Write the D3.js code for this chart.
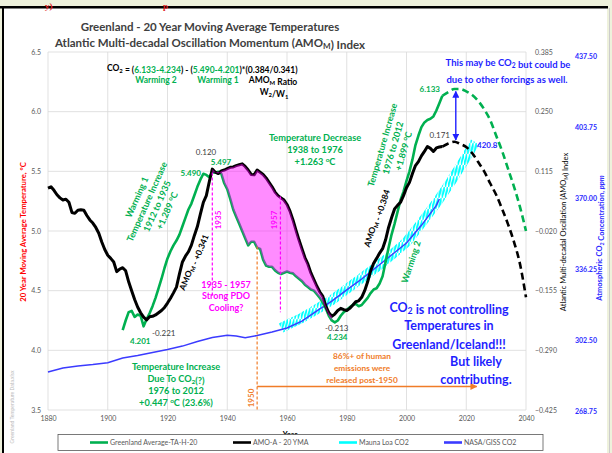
<!DOCTYPE html>
<html>
<head>
<meta charset="utf-8">
<script src="https://cdnjs.cloudflare.com/ajax/libs/d3/7.8.5/d3.min.js"></script>
<style>
  body { margin: 0; background: #eef1dc; }
  svg text { font-family: Lato, "Open Sans", sans-serif; }
</style>
</head>
<body>
<svg width="612" height="453"></svg>
<script>
// Greenland 20 yr moving average temperature, deg C
const greenland = [
  [1905, 4.17], [1906, 4.25], [1907, 4.32], [1908, 4.33], [1909, 4.28], [1910, 4.30], [1911, 4.29],
  [1912, 4.201], [1913, 4.26], [1914, 4.31], [1915, 4.37], [1916, 4.44], [1917, 4.52], [1918, 4.60],
  [1919, 4.69], [1920, 4.77], [1921, 4.83], [1922, 4.88], [1923, 4.92], [1924, 4.97], [1925, 5.04],
  [1926, 5.11], [1927, 5.18], [1928, 5.23], [1929, 5.30], [1930, 5.37], [1931, 5.43], [1932, 5.48],
  [1933, 5.47], [1934, 5.45], [1935, 5.490], [1936, 5.49], [1937, 5.497], [1938, 5.48], [1939, 5.40],
  [1940, 5.35], [1941, 5.27], [1942, 5.18], [1943, 5.12], [1944, 5.06], [1945, 5.00], [1946, 4.94],
  [1947, 4.88], [1948, 4.91], [1949, 4.91], [1950, 4.86], [1951, 4.85], [1952, 4.76], [1953, 4.71],
  [1954, 4.70], [1955, 4.70], [1956, 4.67], [1957, 4.65], [1958, 4.64], [1959, 4.65], [1960, 4.66],
  [1961, 4.65], [1962, 4.645], [1963, 4.62], [1964, 4.60], [1965, 4.58], [1966, 4.55], [1967, 4.53],
  [1968, 4.51], [1969, 4.50], [1970, 4.47], [1971, 4.44], [1972, 4.40], [1973, 4.35], [1974, 4.29],
  [1975, 4.25], [1976, 4.234], [1977, 4.25], [1978, 4.29], [1979, 4.32], [1980, 4.34], [1981, 4.36],
  [1982, 4.38], [1983, 4.39], [1984, 4.37], [1985, 4.38], [1986, 4.41], [1987, 4.44], [1988, 4.48],
  [1989, 4.51], [1990, 4.52], [1991, 4.56], [1992, 4.62], [1993, 4.74], [1994, 4.86], [1995, 4.97],
  [1996, 5.06], [1997, 5.16], [1998, 5.26], [1999, 5.33], [2000, 5.42], [2001, 5.50], [2002, 5.60],
  [2003, 5.72], [2004, 5.80], [2005, 5.87], [2006, 5.91], [2007, 5.93], [2008, 5.94], [2009, 5.96],
  [2010, 6.01], [2011, 6.07], [2012, 6.133]
];
const greenlandProj = [
  [2012, 6.133], [2014, 6.165], [2016, 6.19], [2018, 6.19], [2020, 6.17], [2022, 6.14], [2024, 6.09],
  [2026, 6.02], [2028, 5.93], [2030, 5.80], [2032, 5.67], [2034, 5.52], [2036, 5.37], [2038, 5.20], [2040, 5.00]
];

// AMO-A 20 yr moving average (index)
const amo = [
  [1880, 0.077], [1881, 0.080], [1882, 0.072], [1883, 0.062], [1884, 0.055], [1885, 0.050], [1886, 0.052],
  [1887, 0.045], [1888, 0.022], [1889, 0.020], [1890, 0.027], [1891, 0.028], [1892, 0.027], [1893, 0.015],
  [1894, 0.005], [1895, -0.002], [1896, -0.012], [1897, -0.025], [1898, -0.045], [1899, -0.062], [1900, -0.075],
  [1901, -0.082], [1902, -0.090], [1903, -0.112], [1904, -0.106], [1905, -0.103], [1906, -0.110], [1907, -0.135],
  [1908, -0.155], [1909, -0.175], [1910, -0.192], [1911, -0.205], [1912, -0.215], [1913, -0.221], [1914, -0.214],
  [1915, -0.213], [1916, -0.210], [1917, -0.205], [1918, -0.200], [1919, -0.193], [1920, -0.183], [1921, -0.172],
  [1922, -0.160], [1923, -0.147], [1924, -0.117], [1925, -0.090], [1926, -0.077], [1927, -0.067], [1928, -0.052],
  [1929, -0.030], [1930, -0.010], [1931, 0.018], [1932, 0.045], [1933, 0.060], [1934, 0.092], [1935, 0.120],
  [1936, 0.113], [1937, 0.110], [1938, 0.116], [1939, 0.118], [1940, 0.121], [1941, 0.124], [1942, 0.125],
  [1943, 0.128], [1944, 0.130], [1945, 0.132], [1946, 0.126], [1947, 0.118], [1948, 0.108], [1949, 0.107],
  [1950, 0.118], [1951, 0.113], [1952, 0.108], [1953, 0.100], [1954, 0.090], [1955, 0.080], [1956, 0.068],
  [1957, 0.060], [1958, 0.055], [1959, 0.050], [1960, 0.040], [1961, 0.025], [1962, 0.005], [1963, -0.018],
  [1964, -0.040], [1965, -0.060], [1966, -0.080], [1967, -0.095], [1968, -0.115], [1969, -0.130], [1970, -0.145],
  [1971, -0.158], [1972, -0.168], [1973, -0.190], [1974, -0.205], [1975, -0.213], [1976, -0.208], [1977, -0.200],
  [1978, -0.195], [1979, -0.198], [1980, -0.200], [1981, -0.195], [1982, -0.188], [1983, -0.180], [1984, -0.178],
  [1985, -0.170], [1986, -0.155], [1987, -0.135], [1988, -0.110], [1989, -0.093], [1990, -0.082], [1991, -0.070],
  [1992, -0.060], [1993, -0.040], [1994, -0.012], [1995, 0.010], [1996, 0.030], [1997, 0.038], [1998, 0.045],
  [1999, 0.060], [2000, 0.078], [2001, 0.090], [2002, 0.110], [2003, 0.128], [2004, 0.137], [2005, 0.150],
  [2006, 0.160], [2007, 0.171], [2008, 0.167], [2009, 0.160], [2010, 0.168], [2011, 0.170], [2012, 0.171]
];
const amoProj = [
  [2012, 0.171], [2014, 0.178], [2016, 0.182], [2018, 0.177], [2020, 0.170], [2022, 0.156], [2024, 0.136],
  [2026, 0.115], [2028, 0.088], [2030, 0.062], [2032, 0.030], [2034, -0.005], [2036, -0.045], [2038, -0.095], [2040, -0.170]
];

// CO2, ppm (as read on the right hand CO2 scale)
const maunaLoa = [
  [1958, 308.2], [1960, 309.6], [1965, 313.0], [1970, 317.2], [1975, 321.5], [1980, 326.7], [1985, 332.0],
  [1990, 337.2], [1995, 342.9], [2000, 349.1], [2005, 358.1], [2010, 367.6], [2015, 378.1], [2020, 389.5], [2023, 396.6]
];
const nasaGiss = [
  [1880, 287.3], [1885, 289.2], [1890, 290.1], [1895, 290.8], [1900, 291.7], [1905, 293.9], [1910, 295.1],
  [1915, 296.6], [1920, 298.0], [1925, 299.6], [1930, 301.8], [1935, 303.7], [1940, 304.8], [1943, 304.4],
  [1946, 303.6], [1950, 304.6], [1955, 306.3], [1960, 308.2], [1965, 311.5], [1970, 316.3], [1975, 321.0],
  [1980, 326.3], [1985, 331.5], [1990, 337.2], [1995, 342.9], [2000, 348.6], [2005, 357.0], [2010, 366.5], [2011, 369.5]
];

const yearTicks = [1880, 1900, 1920, 1940, 1960, 1980, 2000, 2020, 2040];
const tempTicks = [3.5, 4.0, 4.5, 5.0, 5.5, 6.0, 6.5];
const amoTicks = [-0.425, -0.290, -0.155, -0.020, 0.115, 0.250, 0.385];
const co2Ticks = [268.75, 302.50, 336.25, 370.00, 403.75, 437.50];

const GREEN = "#00b050", BLUE = "#2b2bff", ORANGE = "#f07c28", MAGENTA = "#ff00ff", GRAY = "#595959";

const svg = d3.select("svg");

// page frame
svg.append("rect").attr("x", 4).attr("y", 8).attr("width", 603).attr("height", 445).attr("fill", "#fff");
svg.append("rect").attr("x", 0).attr("y", 6).attr("width", 608).attr("height", 2.5).attr("fill", "#000");
svg.append("rect").attr("x", 2).attr("y", 6).attr("width", 2).attr("height", 447).attr("fill", "#000");
svg.append("line").attr("x1", 609.5).attr("x2", 609.5).attr("y1", 8).attr("y2", 453).attr("stroke", "#ccc");
svg.append("text").attr("x", 45).attr("y", 9).attr("fill", "#e02020").attr("font-size", 9)
  .attr("font-weight", "bold").style("font-family", "'Liberation Serif', serif").text("y)");
svg.append("text").attr("x", 163).attr("y", 9).attr("fill", "#e02020").attr("font-size", 9)
  .attr("font-weight", "bold").style("font-family", "'Liberation Serif', serif").text("p");

const x = d3.scaleLinear().domain([1880, 2040]).range([48, 526]);
const yT = d3.scaleLinear().domain([3.5, 6.5]).range([410, 52]);
const yA = d3.scaleLinear().domain([-0.425, 0.385]).range([410, 52]);
const yC = d3.scaleLinear().domain([268.75, 437.5]).range([411, 56]);

// grid
svg.append("g").selectAll("line").data(tempTicks).join("line")
  .attr("x1", x(1880)).attr("x2", x(2040)).attr("y1", d => yT(d)).attr("y2", d => yT(d))
  .attr("stroke", "#d9d9d9").attr("stroke-width", 0.8);
svg.append("g").selectAll("line").data(yearTicks).join("line")
  .attr("x1", d => x(d)).attr("x2", d => x(d)).attr("y1", yT(6.5)).attr("y2", yT(3.5))
  .attr("stroke", "#d9d9d9").attr("stroke-width", 0.8);

// axes
const leftAxis = svg.append("g").attr("transform", `translate(${x(1880)},0)`)
  .call(d3.axisLeft(yT).tickValues(tempTicks).tickFormat(d3.format(".1f")).tickSize(0).tickPadding(7));
const bottomAxis = svg.append("g").attr("transform", `translate(0,${yT(3.5)})`)
  .call(d3.axisBottom(x).tickValues(yearTicks).tickFormat(d3.format("d")).tickSize(0).tickPadding(6));
const amoAxis = svg.append("g").attr("transform", `translate(${x(2040)},0)`)
  .call(d3.axisRight(yA).tickValues(amoTicks).tickFormat(d3.format(".3f")).tickSize(0).tickPadding(9));
const co2Axis = svg.append("g").attr("transform", "translate(566,0)")
  .call(d3.axisRight(yC).tickValues(co2Ticks).tickFormat(d3.format(".2f")).tickSize(0).tickPadding(9));
[leftAxis, bottomAxis, amoAxis, co2Axis].forEach(a => {
  a.select(".domain").remove();
  a.selectAll("text").attr("font-size", 7).attr("fill", GRAY).style("font-family", "Lato, sans-serif");
});
co2Axis.selectAll("text").attr("fill", BLUE).attr("font-weight", "bold");

// hatch pattern for the monthly Mauna Loa record
const defs = svg.append("defs");
defs.append("pattern").attr("id", "hatch").attr("patternUnits", "userSpaceOnUse")
  .attr("width", 3.2).attr("height", 11)
  .append("path").attr("d", "M0,11 L3.2,0").attr("stroke", "#00ffff").attr("stroke-width", 2.1);
["arrowBlue", "arrowOrange"].forEach((id, i) => {
  defs.append("marker").attr("id", id).attr("viewBox", "0 0 10 10").attr("refX", 9).attr("refY", 5)
    .attr("markerWidth", 5).attr("markerHeight", 5).attr("orient", "auto-start-reverse")
    .append("path").attr("d", "M0,0 L10,5 L0,10 z").attr("fill", i ? ORANGE : "#1f1fff");
});

const line = (ys) => d3.line().x(d => x(d[0])).y(d => ys(d[1]));

svg.append("path").datum(maunaLoa).attr("d", line(yC)).attr("fill", "none")
  .attr("stroke", "url(#hatch)").attr("stroke-width", 10);
svg.append("path").datum(nasaGiss).attr("d", line(yC)).attr("fill", "none")
  .attr("stroke", "#3b3bff").attr("stroke-width", 1.5);
svg.append("path").datum(greenland).attr("d", line(yT)).attr("fill", "none")
  .attr("stroke", GREEN).attr("stroke-width", 2.6).attr("stroke-linejoin", "round");
svg.append("path").datum(amo).attr("d", line(yA)).attr("fill", "none")
  .attr("stroke", "#000").attr("stroke-width", 3).attr("stroke-linejoin", "round");
svg.append("path").datum(greenlandProj).attr("d", line(yT).curve(d3.curveMonotoneX)).attr("fill", "none")
  .attr("stroke", GREEN).attr("stroke-width", 2.6).attr("stroke-dasharray", "7,4");
svg.append("path").datum(amoProj).attr("d", line(yA).curve(d3.curveMonotoneX)).attr("fill", "none")
  .attr("stroke", "#000").attr("stroke-width", 2.6).attr("stroke-dasharray", "7,4");

// pink band between AMO and temperature, 1935-1975
const band = greenland.filter(d => d[0] >= 1935 && d[0] <= 1975)
  .map(d => ({ year: d[0], t: d[1], a: amo.find(e => e[0] === d[0])[1] }));
svg.append("path").datum(band)
  .attr("d", d3.area().x(d => x(d.year)).y0(d => yT(d.t)).y1(d => yA(d.a)))
  .attr("fill", MAGENTA).attr("fill-opacity", 0.45);

// helpers
function txt(px, py, str, color, size, weight, anchor) {
  return svg.append("text").attr("x", px).attr("y", py).attr("fill", color).attr("font-size", size)
    .attr("font-weight", weight || "bold").attr("text-anchor", anchor || "middle").html(str);
}
function block(cx, cy, rot, lines, color, size, gap) {
  const g = svg.append("g").attr("transform", `translate(${cx},${cy}) rotate(${rot})`);
  lines.forEach((s, i) => {
    g.append("text").attr("y", (i - (lines.length - 1) / 2) * gap + size * 0.35).attr("fill", color)
      .attr("font-size", size).attr("font-weight", "bold").attr("text-anchor", "middle").html(s);
  });
  return g;
}
const sub = s => `<tspan font-size="70%" dy="2">${s}</tspan><tspan dy="-2"></tspan>`;
const deg = `<tspan font-size="70%" dy="-3">o</tspan><tspan dy="3">C</tspan>`;

// titles
txt(210, 31, "Greenland - 20 Year Moving Average Temperatures", "#404040", 11.5);
txt(210, 47, `Atlantic Multi-decadal Oscillation Momentum (AMO${sub("M")}) Index`, "#404040", 11.5);

block(23, 232, -90, ["20 Year Moving Average Temperature, °C"], "#ff0000", 7.7, 0);
svg.append("text").attr("transform", "translate(566,232) rotate(-90)").attr("text-anchor", "middle")
  .attr("font-size", 7.5).attr("fill", "#000").html(`Atlantic Multi-decadal Oscillation (AMO${sub("M")}) Index`);
block(599, 238, -90, [`Atmospheric CO${sub("2")} Concentration, <tspan font-style="italic">ppm</tspan>`], BLUE, 7.5, 0);
svg.append("text").attr("transform", "translate(14,407) rotate(-90)").attr("text-anchor", "middle")
  .attr("font-size", 5).attr("fill", "#bbb").text("Greenland Temperature Data.xlsx");

// formula
txt(107, 71, `CO${sub("2")} = (<tspan fill="${GREEN}">6.133-4.234</tspan>) - (<tspan fill="${GREEN}">5.490-4.201</tspan>)*(0.384/0.341)`, "#000", 8.5, "bold", "start");
txt(156, 83, "Warming 2", GREEN, 8.5);
txt(218, 83, "Warming 1", GREEN, 8.5);
txt(273, 83, `AMO${sub("M")} Ratio`, "#000", 8.5);
txt(274, 95, `W${sub("2")}/W${sub("1")}`, "#000", 8.5);

txt(508, 66, `This may be CO${sub("2")} but could be`, "#1f1fff", 9.5);
txt(507, 83, "due to other forcings as well.", "#1f1fff", 9.5);

// arrow between projected peaks
svg.append("line").attr("x1", x(2016.5)).attr("x2", x(2016.5)).attr("y1", yT(6.17)).attr("y2", yA(0.186))
  .attr("stroke", "#1f1fff").attr("stroke-width", 1.4)
  .attr("marker-start", "url(#arrowBlue)").attr("marker-end", "url(#arrowBlue)");

// data labels
txt(440, 92, "6.133", GREEN, 8, "bold", "end");
txt(450, 138, "0.171", "#404040", 8, "normal", "end");
txt(477, 148, "420.8", "#1f1fff", 8, "bold", "start");
txt(206, 155, "0.120", "#404040", 8, "normal");
txt(221, 165, "5.497", GREEN, 8);
txt(201, 176, "5.490", GREEN, 8, "bold", "end");
txt(152, 336, "-0.221", "#404040", 8, "normal", "start");
txt(130, 344, "4.201", GREEN, 8, "bold", "start");
txt(325, 331, "-0.213", "#404040", 8, "normal", "start");
txt(327, 340, "4.234", GREEN, 8, "bold", "start");

// text blocks
block(315, 150, 0, ["Temperature Decrease", "1938 to 1976", `+1.263 ${deg}`], GREEN, 9.2, 12);
block(152, 204, -66, ["Warming 1", "Temperature Increase", "1912 to 1935", `+1.289 ${deg}`], GREEN, 9, 11);
block(193, 262, -68, [`AMO${sub("M")} - +0.341`], "#000", 8.5, 0);
block(393, 148, -74, ["Temperature Increase", "1976 to 2012", `+1.899 ${deg}`], GREEN, 9, 11);
block(376, 218, -72, [`AMO${sub("M")} - +0.384`], "#000", 8.5, 0);
block(411, 262, -72, ["Warming 2"], GREEN, 9, 0);
block(176, 385, 0, ["Temperature Increase", `Due To CO${sub("2")}(?)`, "1976 to 2012", `+0.447 ${deg} (23.6%)`], GREEN, 9.2, 12);

// PDO markers
[[1935, yT(5.49), yT(4.45)], [1957.8, yA(0.058), yT(4.32)]].forEach(d => {
  svg.append("line").attr("x1", x(d[0])).attr("x2", x(d[0])).attr("y1", d[1]).attr("y2", d[2])
    .attr("stroke", MAGENTA).attr("stroke-width", 1.2).attr("stroke-dasharray", "3,2");
});
block(218.5, 220, -90, ["1935"], MAGENTA, 8, 0);
block(274.5, 220, -90, ["1957"], MAGENTA, 8, 0);
block(226, 296, 0, ["1935 - 1957", "Strong PDO", "Cooling?"], MAGENTA, 9, 11.5);

// 1950 marker
svg.append("line").attr("x1", x(1950)).attr("x2", x(1950)).attr("y1", yT(4.87)).attr("y2", yT(3.5))
  .attr("stroke", ORANGE).attr("stroke-width", 1.2).attr("stroke-dasharray", "3,2");
svg.append("line").attr("x1", x(1950)).attr("x2", x(2023.5)).attr("y1", 386.5).attr("y2", 386.5)
  .attr("stroke", ORANGE).attr("stroke-width", 1.4).attr("marker-end", "url(#arrowOrange)");
block(251, 398, -90, ["1950"], ORANGE, 8, 0);
block(362, 368, 0, ["86%+ of human", "emissions were", "released post-1950"], ORANGE, 8.3, 12);

// main message
block(449, 326, 0, [`CO${sub("2")} is not controlling`, "Temperatures in", "Greenland/Iceland!!!"], "#1f1fff", 12.5, 18.5);
block(476, 370.5, 0, ["But likely", "contributing."], "#1f1fff", 12.5, 18);

// x axis title and legend
txt(290, 437, "Year", "#000", 7.5);
svg.append("rect").attr("x", 58).attr("y", 434.5).attr("width", 485).attr("height", 16)
  .attr("fill", "#fff").attr("stroke", "#595959").attr("stroke-width", 0.8);
const legendItems = [
  { label: "Greenland Average-TA-H-20", x: 90, stroke: GREEN },
  { label: "AMO-A - 20 YMA", x: 233, stroke: "#000" },
  { label: "Mauna Loa CO2", x: 339, stroke: "#00ffff" },
  { label: "NASA/GISS CO2", x: 444, stroke: "#3b3bff" }
];
const leg = svg.append("g").selectAll("g").data(legendItems).join("g");
leg.append("line").attr("x1", d => d.x).attr("x2", d => d.x + 18).attr("y1", 442.5).attr("y2", 442.5)
  .attr("stroke", d => d.stroke).attr("stroke-width", 2.6);
leg.append("text").attr("x", d => d.x + 20).attr("y", 445).attr("font-size", 7).attr("fill", GRAY)
  .text(d => d.label);
</script>
</body>
</html>
